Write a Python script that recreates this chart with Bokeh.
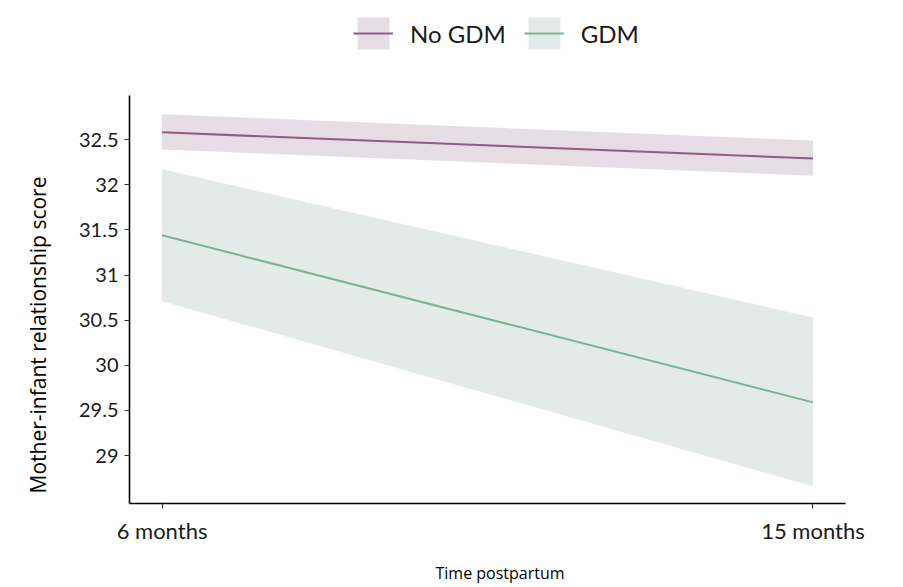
from bokeh.plotting import figure
from bokeh.models import (Range1d, FixedTicker, Legend, LegendItem, Title,
                          ColumnDataSource, CustomJSTickFormatter)
from bokeh.embed import file_html
from bokeh.resources import INLINE

# ---- data ----
months = [6, 15]
month_labels = ["6 months", "15 months"]
nogdm_mean = [32.58, 32.29]
nogdm_lower = [32.39, 32.10]
nogdm_upper = [32.78, 32.49]
gdm_mean = [31.44, 29.59]
gdm_lower = [30.71, 28.66]
gdm_upper = [32.17, 30.53]
y_ticks = [29, 29.5, 30, 30.5, 31, 31.5, 32, 32.5]
y_axis_span = (28.47, 32.99)

NOGDM_LINE = "#8b5e86"
NOGDM_FILL = "#e6dee4"
GDM_LINE = "#7db394"
GDM_FILL = "#e3ebe8"
TICK_FONT = "Lato"
TITLE_FONT = "Open Sans"

# frame extends up to the top of the canvas so the legend sits inside it;
# the visible y axis is bounded to the data span
p = figure(frame_width=716, frame_height=503, output_backend="svg",
           toolbar_location=None, x_range=Range1d(5.55, 15.45),
           y_range=Range1d(28.47, 34.04))
p.min_border_left = 129
p.min_border_right = 50
p.min_border_top = 0
p.min_border_bottom = 84
p.outline_line_color = None
p.xgrid.grid_line_color = None
p.ygrid.grid_line_color = None
p.background_fill_color = "white"
p.border_fill_color = "white"

src_n = ColumnDataSource(dict(x=months, y=nogdm_mean, lo=nogdm_lower, hi=nogdm_upper))
src_g = ColumnDataSource(dict(x=months, y=gdm_mean, lo=gdm_lower, hi=gdm_upper))

bn = p.varea(x="x", y1="lo", y2="hi", source=src_n, fill_color=NOGDM_FILL, fill_alpha=1)
bg = p.varea(x="x", y1="lo", y2="hi", source=src_g, fill_color=GDM_FILL, fill_alpha=1)
ln = p.line(x="x", y="y", source=src_n, line_color=NOGDM_LINE, line_width=2)
lg = p.line(x="x", y="y", source=src_g, line_color=GDM_LINE, line_width=2)

# axes
for ax in (p.xaxis[0], p.yaxis[0]):
    ax.axis_line_color = "black"
    ax.axis_line_width = 1.6
    ax.major_tick_line_color = "#333333"
    ax.major_tick_line_width = 1.2
    ax.major_tick_out = 5
    ax.major_tick_in = 0
    ax.minor_tick_line_color = None

p.yaxis.bounds = y_axis_span
p.yaxis.ticker = FixedTicker(ticks=y_ticks)
p.yaxis.formatter = CustomJSTickFormatter(code="return String(tick);")
p.yaxis.major_label_text_font = TICK_FONT
p.yaxis.major_label_text_font_size = "20px"
p.yaxis.major_label_text_color = "#1a1a1a"
p.yaxis.major_label_standoff = 6

p.xaxis.ticker = FixedTicker(ticks=months)
p.xaxis.major_label_overrides = {m: t for m, t in zip(months, month_labels)}
p.xaxis.major_label_text_font = TICK_FONT
p.xaxis.major_label_text_font_size = "22px"
p.xaxis.major_label_text_color = "#1a1a1a"
p.xaxis.major_label_standoff = 8

# axis titles
p.add_layout(Title(text="Mother-infant relationship score", align="left", offset=10,
                   vertical_align="top", standoff=43, text_font=TITLE_FONT,
                   text_font_size="21px", text_font_style="normal",
                   text_color="black"), "left")
p.add_layout(Title(text="Time postpartum", align="left", offset=306, standoff=27,
                   text_font=TITLE_FONT, text_font_size="16px",
                   text_font_style="normal", text_color="black"), "below")

legend = Legend(items=[LegendItem(label="No GDM", renderers=[bn, ln]),
                       LegendItem(label="GDM", renderers=[bg, lg])],
                orientation="horizontal", location=(224, 450))
legend.glyph_width = 40
legend.glyph_height = 40
legend.label_standoff = 17
legend.spacing = 18
legend.padding = 0
legend.margin = 0
legend.border_line_color = None
legend.background_fill_alpha = 0
legend.label_text_font = TICK_FONT
legend.label_text_font_size = "24px"
legend.label_text_color = "#1a1a1a"
legend.label_height = 40
p.add_layout(legend, "center")

open("out.html", "w").write(file_html(p, INLINE))
